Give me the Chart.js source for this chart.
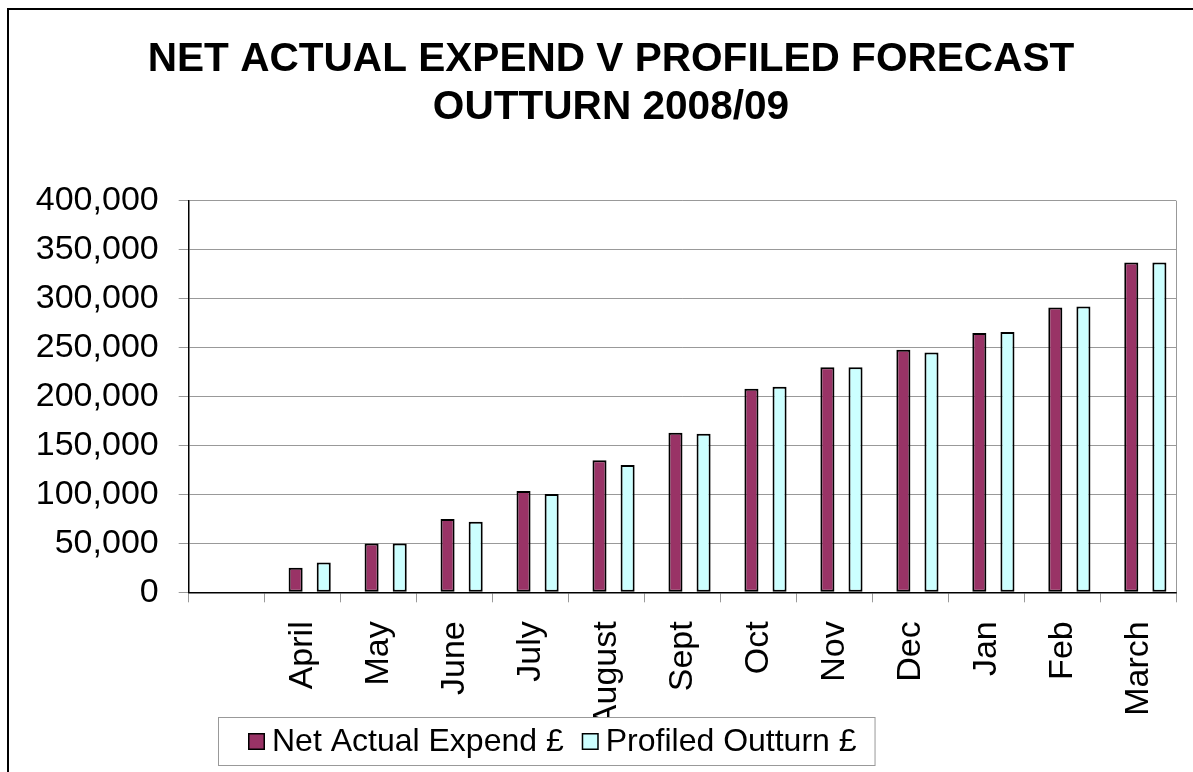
<!DOCTYPE html>
<html>
<head>
<meta charset="utf-8">
<script src="https://cdn.jsdelivr.net/npm/chart.js@4.4.0/dist/chart.umd.min.js"></script>
<style>
html,body{margin:0;background:#fff;overflow:hidden}
#wrap{position:absolute;left:7px;top:8px;border:2px solid #000;background:#fff}
</style>
</head>
<body>
<div id="wrap"><canvas id="chart" width="1230" height="800"></canvas></div>
<script>
// values (first category is blank in the original)
const months = ["", "April", "May", "June", "July", "August", "Sept", "Oct", "Nov", "Dec", "Jan", "Feb", "March"];
const netActual = [null, 25000, 50000, 75000, 103500, 135000, 163000, 208000, 230000, 248000, 265000, 291000, 337000];
const profiledOutturn = [null, 30500, 50000, 72000, 100500, 130000, 162000, 210000, 230000, 245000, 266000, 292000, 337000];
const spacer = months.map(() => null);

const FONT = '"Liberation Sans", Arial, sans-serif';
const $ = id => document.getElementById(id);
const fmt = n => new Intl.NumberFormat("en-GB").format(n);

// title sits centred on the whole (wider) chart object, not on the plot
const titleShift = {
  id: "titleShift",
  afterLayout(c) {
    const t = c.titleBlock, d = 602 - (t.left + t.right) / 2;
    t.left += d;
    t.right += d;
  }
};

// grey line down the right side of the plot area
const plotFrame = {
  id: "plotFrame",
  beforeDatasetsDraw(c) {
    const a = c.chartArea, ctx = c.ctx;
    ctx.save();
    ctx.strokeStyle = "#999";
    ctx.lineWidth = 1;
    ctx.beginPath();
    ctx.moveTo(Math.round(a.right) + 0.5, a.top);
    ctx.lineTo(Math.round(a.right) + 0.5, a.bottom);
    ctx.stroke();
    ctx.restore();
  }
};

// boxed legend, drawn over the axis labels like the original
const boxLegend = {
  id: "boxLegend",
  afterDraw(c) {
    const ctx = c.ctx;
    const items = c.data.datasets.filter(d => d.label);
    ctx.save();
    ctx.font = "32px " + FONT;
    const left = 209, top = 707, h = 48, mid = top + h / 2;
    let x = left + 30;
    const parts = items.map(d => {
      const p = {d, x};
      x += 17 + 7 + ctx.measureText(d.label).width + 18;
      return p;
    });
    ctx.fillStyle = "#fff";
    ctx.fillRect(left, top, x - left, h);
    ctx.strokeStyle = "#999";
    ctx.lineWidth = 1;
    ctx.strokeRect(left + 0.5, top + 0.5, x - left, h);
    parts.forEach(p => {
      ctx.fillStyle = p.d.backgroundColor;
      ctx.fillRect(p.x, mid - 8, 17, 17);
      ctx.strokeStyle = "#000";
      ctx.lineWidth = 1.5;
      ctx.strokeRect(p.x + 0.75, mid - 8 + 0.75, 15.5, 15.5);
      ctx.fillStyle = "#000";
      ctx.textBaseline = "middle";
      ctx.fillText(p.d.label, p.x + 24, mid + 1);
    });
    ctx.restore();
  }
};

new Chart($("chart"), {
  type: "bar",
  data: {
    labels: months,
    datasets: [
      {label: "", data: spacer},
      {label: "Net Actual Expend £", data: netActual, backgroundColor: "#993366", borderColor: "#000", borderWidth: 2, borderSkipped: false},
      {label: "", data: spacer},
      {label: "Profiled Outturn £", data: profiledOutturn, backgroundColor: "#CCFFFF", borderColor: "#000", borderWidth: 2, borderSkipped: false}
    ]
  },
  plugins: [titleShift, plotFrame, boxLegend],
  options: {
    responsive: false,
    animation: false,
    devicePixelRatio: 1,
    datasets: {bar: {categoryPercentage: 0.74, barPercentage: 1}},
    layout: {padding: {top: 0, left: 16, right: 1230 - 1167.3, bottom: 67.7}},
    plugins: {
      legend: {display: false},
      tooltip: {enabled: false},
      title: {
        display: true,
        text: ["NET ACTUAL EXPEND V PROFILED FORECAST", "OUTTURN 2008/09"],
        color: "#000",
        font: {family: FONT, size: 40.6, weight: "bold", lineHeight: 1.18},
        padding: {top: 25.5, bottom: 69.6}
      }
    },
    scales: {
      x: {
        grid: {drawOnChartArea: false, tickLength: 10, tickColor: "#999", offset: true},
        border: {color: "#000", width: 1.5},
        ticks: {autoSkip: false, maxRotation: 90, minRotation: 90, padding: 19, color: "#000", font: {family: FONT, size: 34}},
        afterFit: s => { s.height = 150; }
      },
      y: {
        min: 0,
        max: 400000,
        ticks: {stepSize: 50000, padding: 20, color: "#000", font: {family: FONT, size: 34}, callback: v => fmt(v)},
        grid: {color: "#999", tickLength: 10, tickColor: "#999"},
        border: {color: "#000", width: 1.5},
        afterFit: s => { s.width = 163.7; }
      }
    }
  }
});
</script>
</body>
</html>
